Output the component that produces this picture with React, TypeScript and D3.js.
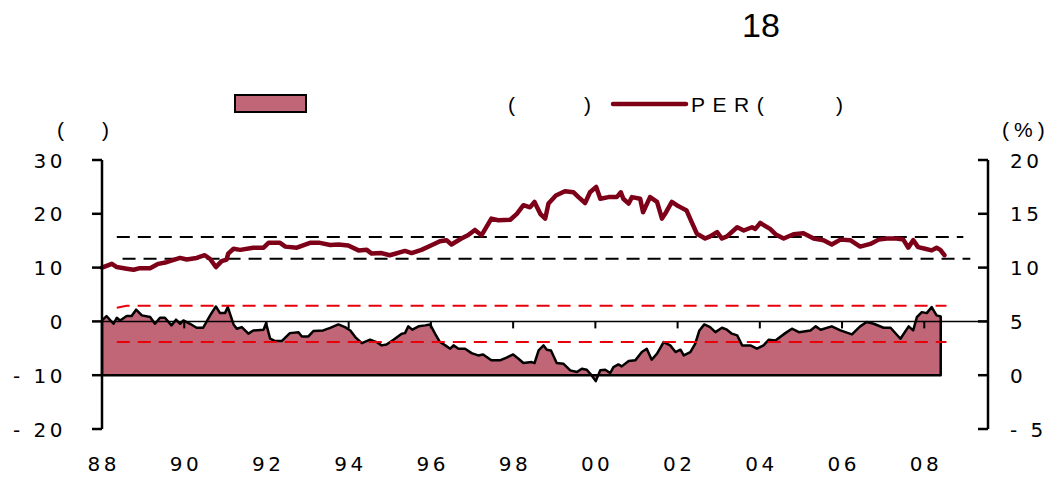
import * as d3 from 'd3';

// PER (left axis), [year, value]
const perSeries: [number, number][] = [
  [1988.0, 9.98], [1988.24, 10.7], [1988.36, 10.1], [1988.6, 9.8], [1988.77, 9.6], [1988.92, 9.9],
  [1989.17, 9.9], [1989.37, 10.7], [1989.57, 11.0], [1989.9, 11.8], [1990.06, 11.5], [1990.3, 11.8],
  [1990.5, 12.3], [1990.63, 11.6], [1990.77, 10.1], [1990.91, 11.2], [1991.03, 11.5], [1991.07, 12.6],
  [1991.2, 13.5], [1991.36, 13.3], [1991.68, 13.7], [1991.93, 13.7], [1992.05, 14.6], [1992.33, 14.6],
  [1992.46, 13.9], [1992.74, 13.7], [1993.06, 14.6], [1993.3, 14.6], [1993.55, 14.2], [1993.75, 14.3],
  [1993.99, 14.1], [1994.24, 13.2], [1994.44, 13.3], [1994.56, 12.6], [1994.8, 12.7], [1995.0, 12.3],
  [1995.37, 13.1], [1995.53, 12.7], [1995.77, 13.3], [1996.0, 14.1], [1996.22, 14.9], [1996.38, 15.1],
  [1996.5, 14.3], [1996.74, 15.4], [1996.9, 16.0], [1997.07, 17.0], [1997.23, 16.0], [1997.47, 19.1],
  [1997.64, 18.8], [1997.93, 18.9], [1998.09, 20.0], [1998.25, 21.6], [1998.41, 21.2], [1998.52, 22.2],
  [1998.66, 20.0], [1998.78, 19.1], [1998.86, 21.9], [1999.04, 23.4], [1999.26, 24.2], [1999.47, 24.0],
  [1999.59, 23.1], [1999.75, 22.0], [1999.87, 24.0], [2000.02, 25.0], [2000.12, 22.8], [2000.32, 23.1],
  [2000.52, 23.1], [2000.62, 24.0], [2000.68, 22.8], [2000.81, 21.9], [2000.89, 23.1], [2001.09, 22.8],
  [2001.16, 20.3], [2001.33, 23.1], [2001.5, 22.2], [2001.62, 19.1], [2001.72, 20.3], [2001.86, 22.2],
  [2001.98, 21.6], [2002.1, 21.1], [2002.22, 20.6], [2002.34, 18.5], [2002.47, 16.3], [2002.67, 15.4],
  [2002.79, 15.8], [2002.96, 16.6], [2003.08, 15.4], [2003.2, 15.8], [2003.45, 17.5], [2003.61, 16.9],
  [2003.81, 17.5], [2003.89, 17.2], [2004.01, 18.3], [2004.25, 17.2], [2004.4, 16.1], [2004.58, 15.4],
  [2004.82, 16.2], [2005.06, 16.4], [2005.31, 15.4], [2005.55, 15.1], [2005.75, 14.3], [2005.96, 15.2],
  [2006.2, 15.1], [2006.44, 13.9], [2006.69, 14.4], [2006.89, 15.2], [2007.09, 15.4], [2007.33, 15.4],
  [2007.49, 15.2], [2007.61, 13.7], [2007.73, 15.1], [2007.85, 13.8], [2008.02, 13.5], [2008.18, 13.2],
  [2008.3, 13.7], [2008.39, 13.3], [2008.49, 12.3],
];

// yield gap (right axis, %), [year, value]
const spreadSeries: [number, number][] = [
  [1988.0, 5.09], [1988.11, 5.5], [1988.28, 4.78], [1988.36, 5.34], [1988.44, 5.09], [1988.6, 5.5],
  [1988.72, 5.5], [1988.83, 6.09], [1988.97, 5.56], [1989.17, 5.4], [1989.29, 4.78], [1989.41, 5.34],
  [1989.53, 5.34], [1989.69, 4.63], [1989.8, 5.16], [1989.9, 4.78], [1989.98, 5.09], [1990.14, 4.78],
  [1990.3, 4.41], [1990.46, 4.41], [1990.63, 5.56], [1990.77, 6.39], [1990.87, 5.77], [1990.99, 5.77],
  [1991.06, 6.33], [1991.2, 4.72], [1991.28, 4.32], [1991.4, 4.47], [1991.56, 3.86], [1991.68, 4.16],
  [1991.93, 4.23], [1991.99, 4.84], [1992.09, 3.39], [1992.21, 3.17], [1992.37, 3.17], [1992.57, 3.91],
  [1992.78, 4.0], [1992.86, 3.6], [1993.02, 3.6], [1993.14, 4.1], [1993.38, 4.16], [1993.55, 4.4],
  [1993.75, 4.72], [1993.91, 4.47], [1994.04, 4.16], [1994.16, 3.54], [1994.32, 2.98], [1994.52, 3.3],
  [1994.68, 3.08], [1994.8, 2.77], [1994.92, 2.86], [1995.09, 3.3], [1995.29, 3.86], [1995.37, 3.91],
  [1995.45, 4.54], [1995.55, 4.23], [1995.7, 4.54], [1995.86, 4.63], [1995.98, 4.72], [1996.1, 3.86],
  [1996.22, 3.08], [1996.35, 2.77], [1996.47, 2.46], [1996.55, 2.77], [1996.67, 2.46], [1996.83, 2.46],
  [1996.99, 2.05], [1997.15, 1.84], [1997.27, 1.93], [1997.47, 1.38], [1997.68, 1.38], [1997.84, 1.63],
  [1998.0, 1.93], [1998.13, 1.53], [1998.25, 1.13], [1998.45, 1.22], [1998.52, 1.13], [1998.62, 2.3],
  [1998.74, 2.77], [1998.82, 2.37], [1998.92, 2.3], [1999.06, 1.13], [1999.22, 1.07], [1999.39, 0.45],
  [1999.55, 0.29], [1999.67, 0.6], [1999.79, 0.51], [1999.91, -0.02], [2000.01, -0.55], [2000.12, 0.45],
  [2000.24, 0.51], [2000.36, 0.2], [2000.44, 0.75], [2000.56, 1.0], [2000.64, 0.82], [2000.81, 1.31],
  [2000.97, 1.38], [2001.13, 2.15], [2001.25, 2.46], [2001.37, 1.44], [2001.5, 2.0], [2001.66, 3.08],
  [2001.82, 2.77], [2001.95, 2.15], [2002.07, 2.37], [2002.15, 1.84], [2002.31, 2.15], [2002.43, 2.93],
  [2002.53, 4.16], [2002.65, 4.72], [2002.79, 4.47], [2002.92, 4.0], [2003.08, 4.41], [2003.2, 4.23],
  [2003.32, 3.86], [2003.45, 3.7], [2003.57, 2.77], [2003.77, 2.77], [2003.93, 2.46], [2004.09, 2.77],
  [2004.22, 3.3], [2004.38, 3.23], [2004.62, 3.91], [2004.78, 4.32], [2004.95, 4.0], [2005.23, 4.16],
  [2005.36, 4.54], [2005.48, 4.23], [2005.75, 4.54], [2005.96, 4.16], [2006.24, 3.79], [2006.44, 4.54],
  [2006.6, 4.94], [2006.77, 4.78], [2007.01, 4.41], [2007.18, 4.41], [2007.42, 3.39], [2007.62, 4.54],
  [2007.73, 4.16], [2007.82, 5.4], [2007.94, 5.86], [2008.06, 5.77], [2008.18, 6.33], [2008.3, 5.56],
  [2008.4, 5.46],
];

// reference bands
const perUpper: [number, number][] = [[1988.36, 15.67], [2008.95, 15.67]];
const perLower: [number, number][] = [[1988.5, 11.65], [2009.12, 11.65]];
const spreadUpper: [number, number][] = [[1988.36, 6.27], [1988.6, 6.46], [2008.54, 6.46]];
const spreadLower: [number, number][] = [[1988.36, 3.08], [2008.54, 3.08]];

const leftTicks = [30, 20, 10, 0, -10, -20];
const leftLabels = ['30', '20', '10', '0', '- 10', '- 20'];
const rightTicks = [20, 15, 10, 5, 0, -5];
const rightLabels = ['20', '15', '10', '5', '0', '- 5'];
const yearTicks = [1988, 1990, 1992, 1994, 1996, 1998, 2000, 2002, 2004, 2006, 2008];
const yearLabels = ['88', '90', '92', '94', '96', '98', '00', '02', '04', '06', '08'];

const AREA_FILL = '#c06676';
const PER_COLOR = '#7d0018';
const NUM_FONT = '"DejaVu Sans", sans-serif';
const TXT_FONT = '"Liberation Sans", Arial, sans-serif';

export default function App() {
  const width = 1057;
  const height = 478;
  const left = 102;
  const right = 988;
  const top = 160;
  const bottom = 429;

  const x = d3.scaleLinear().domain([1988, 2009.55]).range([left, right]);
  const yL = d3.scaleLinear().domain([-20, 30]).range([bottom, top]);
  const yR = d3.scaleLinear().domain([-5, 20]).range([bottom, top]);

  const area = d3
    .area<[number, number]>()
    .x((d) => x(d[0]))
    .y0(yR(0))
    .y1((d) => yR(d[1]));
  const lineL = d3.line<[number, number]>().x((d) => x(d[0])).y((d) => yL(d[1]));
  const lineR = d3.line<[number, number]>().x((d) => x(d[0])).y((d) => yR(d[1]));

  return (
    <svg
      width={width}
      height={height}
      style={{ position: 'absolute', left: 0, top: 0, background: '#fff' }}
    >
      <text x={761} y={37} textAnchor="middle" fontFamily={TXT_FONT} fontSize={34} fill="#000">
        18
      </text>

      {/* legend */}
      <rect x={235} y={95} width={71} height={17} fill={AREA_FILL} stroke="#000" strokeWidth={2} />
      <text x={508} y={112} fontFamily={TXT_FONT} fontSize={21}>(</text>
      <text x={584} y={112} fontFamily={TXT_FONT} fontSize={21}>)</text>
      <line x1={613} x2={686} y1={104} y2={104} stroke={PER_COLOR} strokeWidth={4.5} strokeLinecap="round" />
      <text x={691} y={112} fontFamily={TXT_FONT} fontSize={21} letterSpacing={7.5}>PER(</text>
      <text x={836} y={112} fontFamily={TXT_FONT} fontSize={21}>)</text>

      {/* unit labels */}
      <text x={57} y={137} fontFamily={TXT_FONT} fontSize={21}>(</text>
      <text x={102} y={137} fontFamily={TXT_FONT} fontSize={21}>)</text>
      <text x={1002} y={137} fontFamily={TXT_FONT} fontSize={21} letterSpacing={5}>(%)</text>

      {/* area */}
      <path d={area(spreadSeries) ?? ''} fill={AREA_FILL} stroke="#000" strokeWidth={2.5} strokeLinejoin="round" />

      {/* x axis at zero */}
      <line x1={left} x2={right} y1={yL(0)} y2={yL(0)} stroke="#000" strokeWidth={1.5} />
      {yearTicks.slice(1).map((t) => (
        <line key={t} x1={x(t)} x2={x(t)} y1={yL(0)} y2={yL(0) + 7} stroke="#000" strokeWidth={2} />
      ))}

      {/* reference dashed lines */}
      <path d={lineL(perUpper) ?? ''} fill="none" stroke="#000" strokeWidth={2} strokeDasharray="13 8" />
      <path d={lineL(perLower) ?? ''} fill="none" stroke="#000" strokeWidth={2} strokeDasharray="13 8" />
      <path d={lineR(spreadUpper) ?? ''} fill="none" stroke="#e8000b" strokeWidth={2} strokeDasharray="13 8" />
      <path d={lineR(spreadLower) ?? ''} fill="none" stroke="#e8000b" strokeWidth={2} strokeDasharray="13 8" />

      {/* PER line */}
      <path
        d={lineL(perSeries) ?? ''}
        fill="none"
        stroke={PER_COLOR}
        strokeWidth={4.5}
        strokeLinejoin="round"
        strokeLinecap="round"
      />

      {/* left axis */}
      <line x1={left} x2={left} y1={top} y2={bottom} stroke="#000" strokeWidth={2.5} />
      {leftTicks.map((t, i) => (
        <g key={t}>
          <line x1={left - 10} x2={left} y1={yL(t)} y2={yL(t)} stroke="#000" strokeWidth={2.5} />
          <text
            x={66}
            y={yL(t) + 7.5}
            textAnchor="end"
            fontFamily={NUM_FONT}
            fontSize={20}
            letterSpacing={3.5}
          >
            {leftLabels[i]}
          </text>
        </g>
      ))}

      {/* right axis */}
      <line x1={right} x2={right} y1={top} y2={bottom} stroke="#000" strokeWidth={2.5} />
      {rightTicks.map((t, i) => (
        <g key={t}>
          <line x1={right - 10} x2={right} y1={yR(t)} y2={yR(t)} stroke="#000" strokeWidth={2.5} />
          <text x={1010} y={yR(t) + 7.5} fontFamily={NUM_FONT} fontSize={20} letterSpacing={3.5}>
            {rightLabels[i]}
          </text>
        </g>
      ))}

      {/* year labels */}
      {yearTicks.map((t, i) => (
        <text
          key={t}
          x={x(t) + 1.75}
          y={471}
          textAnchor="middle"
          fontFamily={NUM_FONT}
          fontSize={20}
          letterSpacing={3.5}
        >
          {yearLabels[i]}
        </text>
      ))}
    </svg>
  );
}
